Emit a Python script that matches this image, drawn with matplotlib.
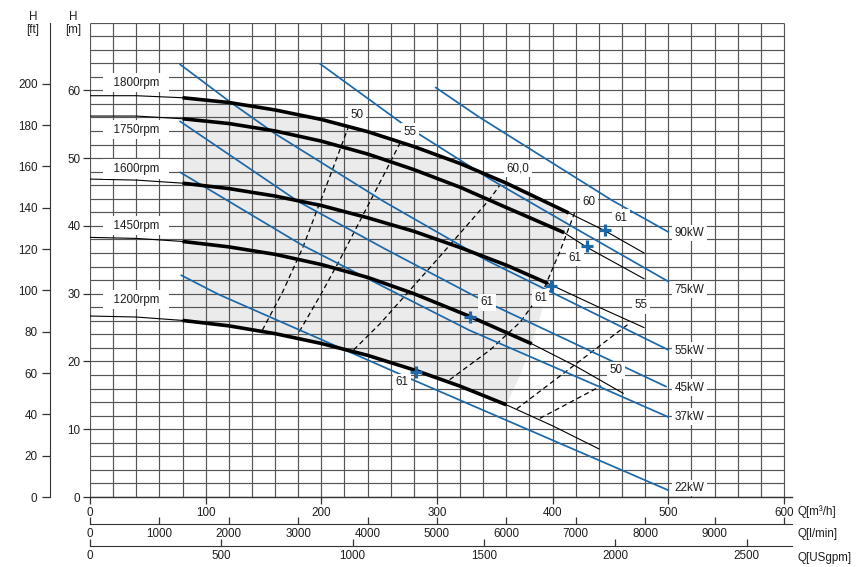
import numpy as np
import matplotlib
matplotlib.use("Agg")
import matplotlib.pyplot as plt

plt.rcParams['font.family'] = ['Liberation Sans', 'DejaVu Sans']
plt.rcParams['font.size'] = 8.4

# pump curves, Q [m3/h] -> H [m]
q_1800 = [0, 40, 80, 120, 160, 200, 240, 280, 320, 360, 414, 445, 479]
h_1800 = [59.2, 59.2, 58.9, 58.2, 57.1, 55.7, 53.9, 51.7, 49.2, 46.3, 41.9, 39.3, 36.0]
q_1750 = [0, 40, 80, 120, 160, 200, 240, 280, 320, 360, 410, 430, 479]
h_1750 = [56.2, 56.2, 55.8, 55.1, 54.0, 52.5, 50.6, 48.3, 45.7, 42.7, 39.0, 36.8, 32.2]
q_1600 = [0, 40, 80, 120, 160, 200, 240, 280, 320, 360, 396, 440, 479]
h_1600 = [46.9, 46.75, 46.3, 45.5, 44.4, 43.0, 41.2, 39.2, 36.8, 34.2, 31.5, 28.0, 25.0]
q_1450 = [0, 40, 80, 120, 160, 200, 240, 280, 329, 382, 420, 461]
h_1450 = [38.3, 38.15, 37.7, 36.9, 35.8, 34.3, 32.4, 30.0, 26.6, 22.6, 19.3, 15.3]
q_1200 = [0, 40, 80, 120, 160, 200, 240, 282, 320, 360, 400, 440]
h_1200 = [26.7, 26.55, 26.05, 25.25, 24.1, 22.65, 20.9, 18.65, 16.35, 13.6, 10.5, 7.1]

speeds = ['1800rpm', '1750rpm', '1600rpm', '1450rpm', '1200rpm']
speed_lab_h = [61.1, 54.2, 48.4, 40.0, 29.1]
thick_start = 80
thick_end = [414, 410, 396, 382, 360]

# best efficiency points (61 %)
bep_q = [445, 430, 399, 329, 282]
bep_h = [39.4, 37.0, 31.1, 26.6, 18.5]
bep_lab_q = [459, 419, 389.5, 343, 269.5]
bep_lab_h = [41.2, 35.3, 29.4, 28.7, 16.9]

# motor power limit lines
p90_q = [299, 336, 451, 500]
p90_h = [60.4, 56.1, 43.8, 39.1]
p75_q = [199, 270, 345, 422, 500]
p75_h = [63.9, 55.1, 47.0, 39.4, 31.8]
p55_q = [78, 121, 160, 254, 342, 500]
p55_h = [63.8, 58.3, 53.6, 43.6, 35.0, 21.7]
p45_q = [78, 180, 254, 333, 351, 498]
p45_h = [55.4, 43.6, 36.7, 29.6, 28.1, 16.3]
p37_q = [78, 183, 254, 328, 440, 500]
p37_h = [47.9, 37.2, 31.0, 24.6, 16.3, 11.8]
p22_q = [79, 111, 279, 500]
p22_h = [32.7, 29.9, 17.3, 1.0]
kw_names = ['90kW', '75kW', '55kW', '45kW', '37kW', '22kW']
kw_lab_h = [38.95, 30.6, 21.6, 16.1, 11.85, 1.33]

# iso-efficiency lines
e50l_q = [149, 167, 184, 209, 223]
e50l_h = [24.6, 30.4, 36.8, 48.0, 54.4]
e55l_q = [181, 200, 216, 254, 268]
e55l_h = [24.4, 30.0, 35.0, 47.5, 52.2]
e60l_q = [228, 251, 300, 345, 354]
e60l_h = [21.7, 25.6, 35.0, 43.8, 45.9]
e60r_q = [311, 346, 372, 392, 406, 419]
e60r_h = [17.3, 21.7, 25.8, 30.5, 36.1, 41.9]
e55r_q = [369, 467]
e55r_h = [13.0, 25.7]
e50r_q = [389, 442]
e50r_h = [11.6, 16.4]
eff_lab_txt = ['50', '55', '60,0', '60', '55', '50']
eff_lab_q = [230.5, 276.6, 370.2, 431.5, 476.8, 454.6]
eff_lab_h = [56.4, 53.9, 48.5, 43.55, 28.3, 18.7]

# right edge of the shaded operating area
arc_q = [414, 410, 404, 396, 390, 382, 372, 360]
arc_h = [41.9, 39.0, 35.2, 31.5, 27.0, 22.6, 18.0, 13.6]

BLUE = '#1c68a8'
GRID = '#555555'
TXT = '#1e1e1e'
W, H = 862, 567


def fx(px):
    return px / W


def fy(py):
    return 1 - py / H


fig = plt.figure(figsize=(W / 100, H / 100), dpi=100)
ax = fig.add_axes([fx(90), fy(497), fx(792) - fx(90), fy(22.5) - fy(497)])
ax.set_xlim(0, 607)
ax.set_ylim(0, 70)

# shaded area
top = [(q, h) for q, h in zip(q_1800, h_1800) if thick_start <= q <= thick_end[0]]
bot = [(q, h) for q, h in zip(q_1200, h_1200) if thick_start <= q <= thick_end[-1]]
poly = top + list(zip(arc_q, arc_h)) + bot[::-1]
ax.fill([p[0] for p in poly], [p[1] for p in poly], color='#ebebeb', lw=0, zorder=0)

# grid
ax.vlines(np.arange(0, 601, 20), 0, 70, color=GRID, lw=0.85, zorder=1)
ax.hlines(np.arange(0, 71, 2), 0, 600, color=GRID, lw=0.85, zorder=1)

for s in ['top', 'right', 'left']:
    ax.spines[s].set_visible(False)
ax.spines['bottom'].set_color('#333333')
ax.spines['bottom'].set_linewidth(1.0)
ax.set_xticks(range(0, 601, 100))
ax.set_yticks(range(0, 61, 10))
ax.tick_params(direction='out', length=5, width=0.9, color='#333333',
               labelcolor=TXT, pad=2)

# iso-efficiency dashed lines
for qq, hh in [(e50l_q, e50l_h), (e55l_q, e55l_h), (e60l_q, e60l_h),
               (e60r_q, e60r_h), (e55r_q, e55r_h), (e50r_q, e50r_h)]:
    ax.plot(qq, hh, color='black', lw=0.9, ls=(0, (4, 2.7)), zorder=2)

# power lines
for qq, hh in [(p90_q, p90_h), (p75_q, p75_h), (p55_q, p55_h),
               (p45_q, p45_h), (p37_q, p37_h), (p22_q, p22_h)]:
    ax.plot(qq, hh, color=BLUE, lw=1.25, zorder=3)

# pump curves
curves = [(q_1800, h_1800), (q_1750, h_1750), (q_1600, h_1600),
          (q_1450, h_1450), (q_1200, h_1200)]
for (qq, hh), qend in zip(curves, thick_end):
    ax.plot(qq, hh, color='black', lw=0.8, zorder=4)
    qa = np.array(qq)
    ha = np.array(hh)
    m = (qa >= thick_start) & (qa <= qend)
    ax.plot(qa[m], ha[m], color='black', lw=2.6, solid_capstyle='butt',
            solid_joinstyle='round', zorder=4)

ax.plot(bep_q, bep_h, '+', color=BLUE, ms=9, mew=2.3, zorder=6)

box = dict(facecolor='white', edgecolor='none', pad=1.8)
for t, h in zip(speeds, speed_lab_h):
    ax.text(40, h, '  ' + t + '  ', ha='center', va='center', color=TXT,
            bbox=dict(facecolor='white', edgecolor='none', pad=2.6), zorder=7)
for t, h in zip(kw_names, kw_lab_h):
    ax.text(505.5, h, t, ha='left', va='center', color=TXT, bbox=box, zorder=7)
for q, h in zip(bep_lab_q, bep_lab_h):
    ax.text(q, h, '61', ha='center', va='center', color=TXT, bbox=box, zorder=7)
for t, q, h in zip(eff_lab_txt, eff_lab_q, eff_lab_h):
    ax.text(q, h, t, ha='center', va='center', color=TXT, bbox=box, zorder=7)

# head in feet
axft = fig.add_axes([fx(50), fy(497), 0.0001, fy(22.5) - fy(497)])
axft.set_ylim(0, 70 * 3.28084)
axft.set_yticks(range(0, 201, 20))
axft.set_xticks([])
for s in ['top', 'right', 'bottom']:
    axft.spines[s].set_visible(False)
axft.spines['left'].set_color('#333333')
axft.tick_params(direction='out', length=6, width=0.9, color='#333333',
                 labelcolor=TXT, pad=3)

# flow in l/min
axl = fig.add_axes([fx(90), fy(524), fx(792) - fx(90), 0.0001])
axl.set_xlim(0, 607 * 1000 / 60)
axl.set_xticks(range(0, 10001, 1000))
axl.set_xticklabels([str(v) for v in range(0, 10000, 1000)] + [''])
# flow in US gpm
axg = fig.add_axes([fx(90), fy(546), fx(792) - fx(90), 0.0001])
axg.set_xlim(0, 607 * 4.40287)
axg.set_xticks(range(0, 2501, 500))
for a in (axl, axg):
    a.set_yticks([])
    for s in ['top', 'right', 'left']:
        a.spines[s].set_visible(False)
    a.spines['bottom'].set_color('#333333')
    a.tick_params(direction='in', length=5, width=0.9, color='#333333',
                  labelcolor=TXT, pad=3)
    a.patch.set_visible(False)

fig.text(fx(33), fy(23.5), 'H\n[ft]', ha='center', va='center', color=TXT)
fig.text(fx(73), fy(23.5), 'H\n[m]', ha='center', va='center', color=TXT)
fig.text(fx(798), fy(512), 'Q[m³/h]', ha='left', va='center', color=TXT)
fig.text(fx(798), fy(534), 'Q[l/min]', ha='left', va='center', color=TXT)
fig.text(fx(798), fy(558), 'Q[USgpm]', ha='left', va='center', color=TXT)

fig.savefig('out.png', dpi=100)
